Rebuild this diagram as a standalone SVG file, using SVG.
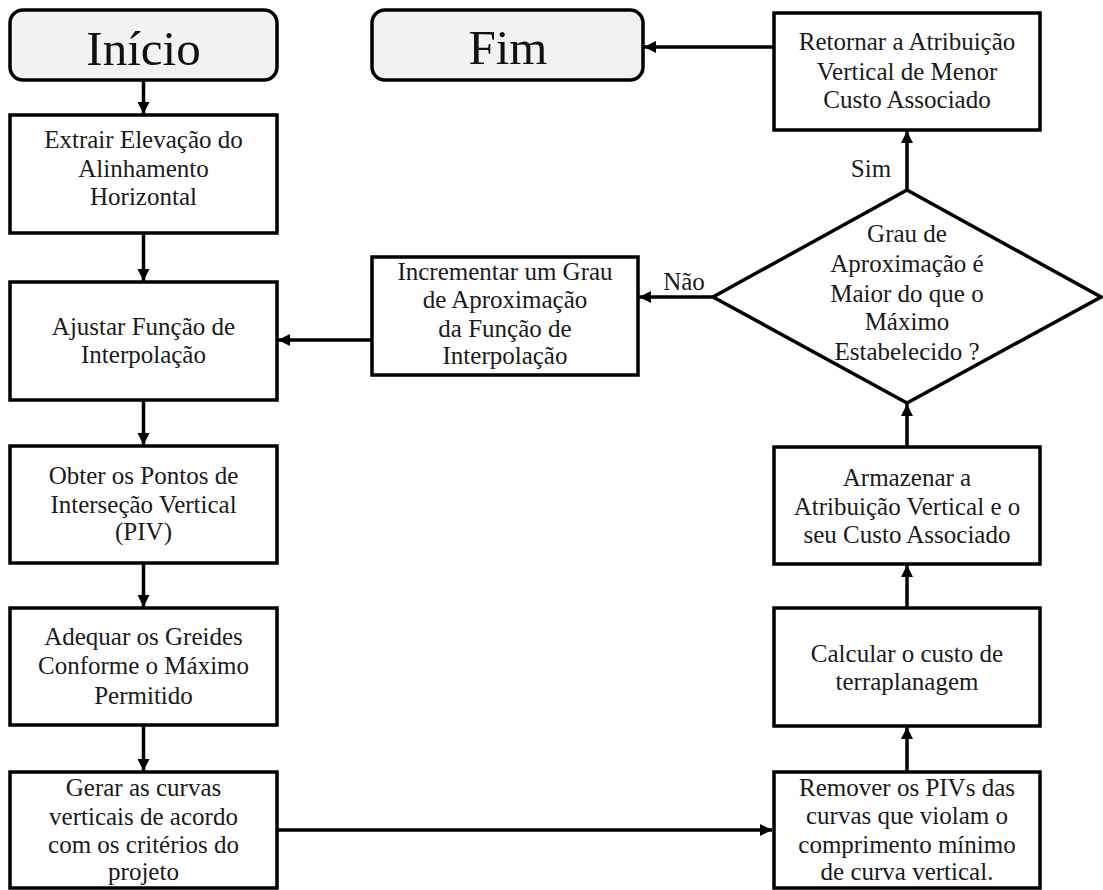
<svg xmlns="http://www.w3.org/2000/svg" width="1103" height="890" viewBox="0 0 1103 890">
  <style>
    .box { fill: #ffffff; stroke: #000000; stroke-width: 3.5; }
    .term { fill: #f2f2f2; stroke: #000000; stroke-width: 3.5; }
    .lbl { font-family: "Liberation Serif", "Times New Roman", serif; font-size: 25px; fill: #1a1a1a; text-anchor: middle; }
    .big { font-family: "Liberation Serif", "Times New Roman", serif; font-size: 49px; fill: #111111; text-anchor: middle; }
    .edge { fill: none; stroke: #000000; stroke-width: 3.5; marker-end: url(#arrow); }
  </style>
  <defs>
    <marker id="arrow" markerUnits="userSpaceOnUse" markerWidth="13" markerHeight="13" refX="12" refY="6" orient="auto">
      <path d="M0,0 L12,6 L0,12 z" fill="#000000"/>
    </marker>
  </defs>
  <rect width="1103" height="890" fill="#ffffff"/>

  <!-- connectors -->
  <g id="connectors">
    <line class="edge" x1="143.5" y1="80" x2="143.5" y2="114"/>
    <line class="edge" x1="143.5" y1="233" x2="143.5" y2="281"/>
    <line class="edge" x1="143.5" y1="400" x2="143.5" y2="445"/>
    <line class="edge" x1="143.5" y1="563" x2="143.5" y2="607"/>
    <line class="edge" x1="143.5" y1="725" x2="143.5" y2="771"/>
    <line class="edge" x1="277" y1="830" x2="772" y2="830"/>
    <line class="edge" x1="907" y1="772" x2="907" y2="727"/>
    <line class="edge" x1="907" y1="608" x2="907" y2="565"/>
    <line class="edge" x1="907" y1="447" x2="907" y2="404"/>
    <line class="edge" x1="907" y1="190" x2="907" y2="131"/>
    <line class="edge" x1="773" y1="47" x2="644" y2="47"/>
    <line class="edge" x1="713" y1="297" x2="639" y2="297"/>
    <line class="edge" x1="372" y1="340" x2="278" y2="340"/>
    <text class="lbl" x="871" y="177">Sim</text>
    <text class="lbl" x="684" y="290">Não</text>
  </g>

  <!-- start / end terminals -->
  <g id="inicio">
    <rect class="term" x="10" y="10" width="267" height="70" rx="13"/>
    <text class="big" x="143.5" y="65">Início</text>
  </g>
  <g id="fim">
    <rect class="term" x="372" y="10" width="271" height="70" rx="13"/>
    <text class="big" x="508" y="64">Fim</text>
  </g>

  <!-- left column -->
  <g id="extrair">
    <rect class="box" x="10" y="115" width="267" height="118"/>
    <text class="lbl" x="143.5" y="148">Extrair Elevação do</text>
    <text class="lbl" x="143.5" y="177">Alinhamento</text>
    <text class="lbl" x="143.5" y="205">Horizontal</text>
  </g>
  <g id="ajustar">
    <rect class="box" x="10" y="282" width="267" height="118"/>
    <text class="lbl" x="143.5" y="335">Ajustar Função de</text>
    <text class="lbl" x="143.5" y="363">Interpolação</text>
  </g>
  <g id="obter">
    <rect class="box" x="10" y="446" width="267" height="117"/>
    <text class="lbl" x="143.5" y="484">Obter os Pontos de</text>
    <text class="lbl" x="143.5" y="513">Interseção Vertical</text>
    <text class="lbl" x="143.5" y="540">(PIV)</text>
  </g>
  <g id="adequar">
    <rect class="box" x="10" y="608" width="267" height="117"/>
    <text class="lbl" x="143.5" y="645">Adequar os Greides</text>
    <text class="lbl" x="143.5" y="674">Conforme o Máximo</text>
    <text class="lbl" x="143.5" y="704">Permitido</text>
  </g>
  <g id="gerar">
    <rect class="box" x="10" y="772" width="267" height="116"/>
    <text class="lbl" x="143.5" y="796">Gerar as curvas</text>
    <text class="lbl" x="143.5" y="825">verticais de acordo</text>
    <text class="lbl" x="143.5" y="853">com os critérios do</text>
    <text class="lbl" x="143.5" y="880">projeto</text>
  </g>

  <!-- middle -->
  <g id="incrementar">
    <rect class="box" x="372" y="257" width="266" height="118"/>
    <text class="lbl" x="505" y="280">Incrementar um Grau</text>
    <text class="lbl" x="505" y="308">de Aproximação</text>
    <text class="lbl" x="505" y="337">da Função de</text>
    <text class="lbl" x="505" y="364">Interpolação</text>
  </g>

  <!-- right column -->
  <g id="retornar">
    <rect class="box" x="774" y="13" width="266" height="117"/>
    <text class="lbl" x="907" y="50">Retornar a Atribuição</text>
    <text class="lbl" x="907" y="80">Vertical de Menor</text>
    <text class="lbl" x="907" y="108">Custo Associado</text>
  </g>
  <g id="decisao">
    <polygon class="box" points="907,190 1101,297 907,403 713,297"/>
    <text class="lbl" x="907" y="242">Grau de</text>
    <text class="lbl" x="907" y="272">Aproximação é</text>
    <text class="lbl" x="907" y="302">Maior do que o</text>
    <text class="lbl" x="907" y="330">Máximo</text>
    <text class="lbl" x="907" y="360">Estabelecido ?</text>
  </g>
  <g id="armazenar">
    <rect class="box" x="774" y="447" width="266" height="117"/>
    <text class="lbl" x="907" y="486">Armazenar a</text>
    <text class="lbl" x="907" y="515">Atribuição Vertical e o</text>
    <text class="lbl" x="907" y="543">seu Custo Associado</text>
  </g>
  <g id="calcular">
    <rect class="box" x="774" y="608" width="266" height="118"/>
    <text class="lbl" x="907" y="662">Calcular o custo de</text>
    <text class="lbl" x="907" y="690">terraplanagem</text>
  </g>
  <g id="remover">
    <rect class="box" x="774" y="772" width="266" height="116"/>
    <text class="lbl" x="907" y="796">Remover os PIVs das</text>
    <text class="lbl" x="907" y="824">curvas que violam o</text>
    <text class="lbl" x="907" y="853">comprimento mínimo</text>
    <text class="lbl" x="907" y="880">de curva vertical.</text>
  </g>
</svg>
